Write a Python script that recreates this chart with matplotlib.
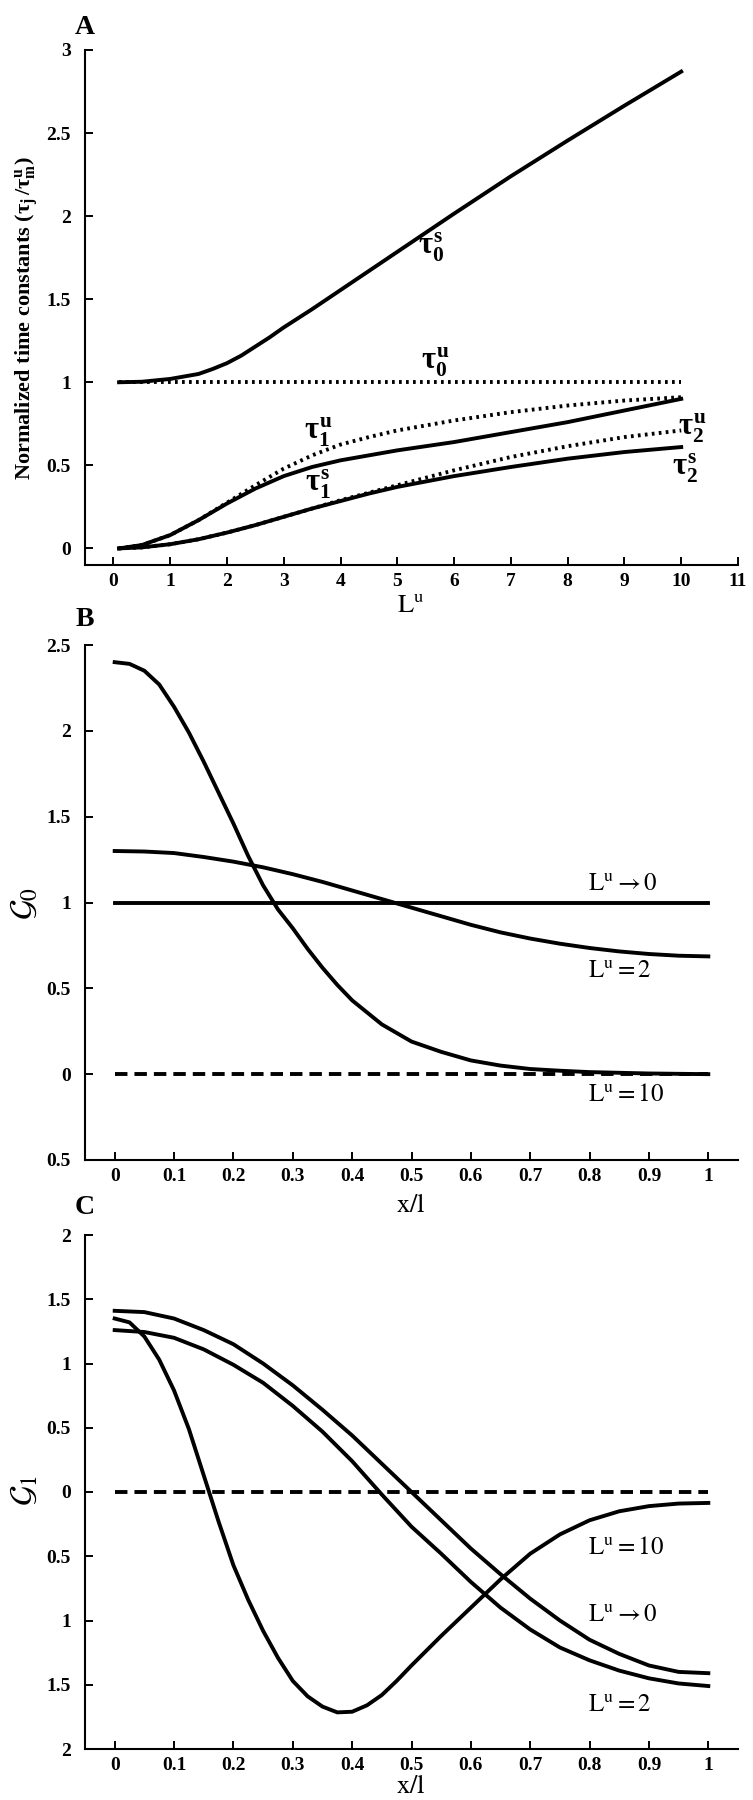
import matplotlib
matplotlib.use("Agg")
import matplotlib.pyplot as plt

# ---- panel A : normalized time constants vs L^u ----
L_s0 = [0.1, 0.5, 1, 1.25, 1.5, 1.75, 2, 2.25, 2.5, 2.75, 3, 3.5, 4, 4.5, 5, 5.5, 6, 7, 8, 9, 10]
tau0_s = [1.0, 1.003, 1.02, 1.035, 1.05, 1.08, 1.115, 1.16, 1.215, 1.27, 1.33, 1.44, 1.555,
          1.67, 1.785, 1.90, 2.015, 2.24, 2.455, 2.665, 2.87]

L_u0 = [0.1, 10]
tau0_u = [1.0, 1.0]

L_1 = [0.1, 0.5, 1, 1.5, 2, 2.5, 3, 3.5, 4, 4.5, 5, 6, 7, 8, 9, 10]
tau1_s = [0.0, 0.02, 0.08, 0.17, 0.27, 0.36, 0.435, 0.49, 0.53, 0.56, 0.59, 0.64, 0.70, 0.76, 0.83, 0.90]
tau1_u = [0.0, 0.02, 0.08, 0.17, 0.275, 0.38, 0.48, 0.56, 0.625, 0.67, 0.71, 0.77, 0.82, 0.86, 0.89, 0.91]

L_2 = [0.1, 0.5, 1, 1.5, 2, 2.5, 3, 3.5, 4, 4.5, 5, 6, 7, 8, 9, 10]
tau2_s = [0.0, 0.006, 0.025, 0.055, 0.095, 0.14, 0.19, 0.24, 0.285, 0.33, 0.37, 0.435, 0.49, 0.54, 0.58, 0.61]
tau2_u = [0.0, 0.006, 0.025, 0.055, 0.095, 0.14, 0.19, 0.24, 0.29, 0.335, 0.38, 0.47, 0.55, 0.615, 0.67, 0.71]

# ---- panel B : G0 profiles ----
xB = [0, 0.05, 0.1, 0.15, 0.2, 0.25, 0.3, 0.35, 0.4, 0.45, 0.5, 0.55, 0.6, 0.65, 0.7, 0.75,
      0.8, 0.85, 0.9, 0.95, 1.0]
g0_L0 = [1.0] * 21
g0_L2 = [1.30, 1.297, 1.288, 1.265, 1.238, 1.205, 1.165, 1.12, 1.07, 1.02, 0.97, 0.92, 0.87,
         0.826, 0.79, 0.76, 0.735, 0.715, 0.70, 0.69, 0.686]
xB10 = [0, 0.025, 0.05, 0.075, 0.1, 0.125, 0.15, 0.175, 0.2, 0.225, 0.25, 0.275, 0.3, 0.325,
        0.35, 0.375, 0.4, 0.45, 0.5, 0.55, 0.6, 0.65, 0.7, 0.75, 0.8, 0.9, 1.0]
g0_L10 = [2.40, 2.39, 2.35, 2.27, 2.14, 1.99, 1.82, 1.64, 1.46, 1.27, 1.10, 0.96, 0.85, 0.73,
          0.62, 0.52, 0.43, 0.29, 0.19, 0.13, 0.08, 0.05, 0.03, 0.02, 0.012, 0.004, 0.0]

# ---- panel C : G1 profiles ----
xC = [0, 0.05, 0.1, 0.15, 0.2, 0.25, 0.3, 0.35, 0.4, 0.45, 0.5, 0.55, 0.6, 0.65, 0.7, 0.75,
      0.8, 0.85, 0.9, 0.95, 1.0]
g1_L0 = [1.41, 1.40, 1.35, 1.26, 1.15, 1.00, 0.83, 0.64, 0.44, 0.22, 0.0, -0.22, -0.44, -0.64,
         -0.83, -1.00, -1.15, -1.26, -1.35, -1.40, -1.41]
g1_L2 = [1.26, 1.245, 1.20, 1.11, 0.99, 0.85, 0.67, 0.47, 0.24, -0.02, -0.27, -0.48, -0.70,
         -0.90, -1.07, -1.21, -1.31, -1.39, -1.45, -1.49, -1.51]
xC10 = [0, 0.025, 0.05, 0.075, 0.1, 0.125, 0.15, 0.175, 0.2, 0.225, 0.25, 0.275, 0.3, 0.325,
        0.35, 0.375, 0.4, 0.425, 0.45, 0.475, 0.5, 0.55, 0.6, 0.65, 0.7, 0.75, 0.8, 0.85,
        0.9, 0.95, 1.0]
g1_L10 = [1.35, 1.32, 1.21, 1.03, 0.79, 0.49, 0.13, -0.23, -0.57, -0.84, -1.08, -1.29, -1.47,
          -1.59, -1.67, -1.715, -1.71, -1.66, -1.58, -1.47, -1.35, -1.12, -0.90, -0.68, -0.48,
          -0.33, -0.22, -0.15, -0.11, -0.09, -0.085]

xticks_frac = [0, 0.1, 0.2, 0.3, 0.4, 0.5, 0.6, 0.7, 0.8, 0.9, 1.0]
xticklabels_frac = ["0", "0.1", "0.2", "0.3", "0.4", "0.5", "0.6", "0.7", "0.8", "0.9", "1"]

plt.rcParams["mathtext.fontset"] = "custom"
plt.rcParams["mathtext.rm"] = "Liberation Serif:bold"
plt.rcParams["mathtext.it"] = "Liberation Serif:bold"
plt.rcParams["mathtext.bf"] = "Liberation Serif:bold"

W, H = 753, 1800
LW = 2.8
DOT = (0, (0.7, 1.1))
DASH = (0, (3.2, 1.8))


def style_axes(ax):
    for s in ["top", "right"]:
        ax.spines[s].set_visible(False)
    for s in ["left", "bottom"]:
        ax.spines[s].set_linewidth(1.5)
    ax.tick_params(direction="in", length=6, width=1.4, pad=6)
    ax.tick_params(axis="y", pad=10)
    for lab in ax.get_xticklabels() + ax.get_yticklabels():
        lab.set_fontfamily("Liberation Serif")
        lab.set_fontweight("bold")
        lab.set_fontsize(14)


def fx(px):
    return px / W


def fy(py):
    return 1 - py / H


fig = plt.figure(figsize=(7.53, 18.0), dpi=100)
axA = fig.add_axes([fx(85), fy(565), 653 / W, 515 / H])
axB = fig.add_axes([fx(85), fy(1160), 653 / W, 515 / H])
axC = fig.add_axes([fx(85), fy(1749), 653 / W, 514 / H])

# Panel A
axA.plot(L_s0, tau0_s, color="k", lw=LW)
axA.plot(L_u0, tau0_u, color="k", lw=LW, linestyle=DOT)
axA.plot(L_1, tau1_s, color="k", lw=LW)
axA.plot(L_1, tau1_u, color="k", lw=LW, linestyle=DOT)
axA.plot(L_2, tau2_s, color="k", lw=LW)
axA.plot(L_2, tau2_u, color="k", lw=LW, linestyle=DOT)
axA.set_xlim(-0.5, 11)
axA.set_ylim(-0.1, 3)
axA.set_xticks(range(0, 12))
axA.set_xticklabels([str(i) for i in range(0, 12)])
axA.set_yticks([0, 0.5, 1, 1.5, 2, 2.5, 3])
axA.set_yticklabels(["0", "0.5", "1", "1.5", "2", "2.5", "3"])
style_axes(axA)

tau_kw = dict(ha="center", va="center", fontsize=22)
axA.text(5.6, 1.81, r"$\tau_0^s$", **tau_kw)
axA.text(5.67, 1.12, r"$\tau_0^u$", **tau_kw)
axA.text(3.61, 0.70, r"$\tau_1^u$", **tau_kw)
axA.text(3.6, 0.385, r"$\tau_1^s$", **tau_kw)
axA.text(10.2, 0.72, r"$\tau_2^u$", **tau_kw)
axA.text(10.07, 0.48, r"$\tau_2^s$", **tau_kw)

# Panel B
axB.plot(xB, g0_L0, color="k", lw=LW)
axB.plot(xB, g0_L2, color="k", lw=LW)
axB.plot(xB10, g0_L10, color="k", lw=LW)
axB.plot([0, 1], [0, 0], color="k", lw=LW, linestyle=DASH)
axB.set_xlim(-0.05, 1.05)
axB.set_ylim(-0.5, 2.5)
axB.set_xticks(xticks_frac)
axB.set_xticklabels(xticklabels_frac)
axB.set_yticks([-0.5, 0, 0.5, 1, 1.5, 2, 2.5])
axB.set_yticklabels(["0.5", "0", "0.5", "1", "1.5", "2", "2.5"])
style_axes(axB)

ann_kw = dict(ha="left", va="center", fontsize=18, math_fontfamily="stix")
axB.text(0.797, 1.105, r"$\mathrm{L}^{\mathrm{u}}\rightarrow 0$", **ann_kw)
axB.text(0.797, 0.60, r"$\mathrm{L}^{\mathrm{u}} = 2$", **ann_kw)
axB.text(0.797, -0.116, r"$\mathrm{L}^{\mathrm{u}} = 10$", **ann_kw)

# Panel C
axC.plot(xC, g1_L0, color="k", lw=LW)
axC.plot(xC, g1_L2, color="k", lw=LW)
axC.plot(xC10, g1_L10, color="k", lw=LW)
axC.plot([0, 1], [0, 0], color="k", lw=LW, linestyle=DASH)
axC.set_xlim(-0.05, 1.05)
axC.set_ylim(-2, 2)
axC.set_xticks(xticks_frac)
axC.set_xticklabels(xticklabels_frac)
axC.set_yticks([-2, -1.5, -1, -0.5, 0, 0.5, 1, 1.5, 2])
axC.set_yticklabels(["2", "1.5", "1", "0.5", "0", "0.5", "1", "1.5", "2"])
style_axes(axC)

axC.text(0.797, -0.43, r"$\mathrm{L}^{\mathrm{u}} = 10$", **ann_kw)
axC.text(0.797, -0.96, r"$\mathrm{L}^{\mathrm{u}}\rightarrow 0$", **ann_kw)
axC.text(0.797, -1.66, r"$\mathrm{L}^{\mathrm{u}} = 2$", **ann_kw)

# panel letters, axis labels
letter_kw = dict(ha="center", va="center", fontsize=20, family="Liberation Serif", weight="bold")
fig.text(fx(85), fy(27), "A", **letter_kw)
fig.text(fx(85), fy(620), "B", **letter_kw)
fig.text(fx(85), fy(1208), "C", **letter_kw)

fig.text(fx(27), fy(318), r"Normalized time constants ($\tau_j\,/\tau_m^u$)", rotation=90,
         ha="center", va="center", fontsize=16, family="Liberation Serif", weight="bold")
fig.text(fx(23), fy(903), r"$\mathcal{G}_0$", rotation=90, ha="center", va="center",
         fontsize=24, math_fontfamily="stix")
fig.text(fx(23), fy(1490), r"$\mathcal{G}_1$", rotation=90, ha="center", va="center",
         fontsize=24, math_fontfamily="stix")

xl_kw = dict(ha="center", va="center", fontsize=19, math_fontfamily="stix")
fig.text(fx(411), fy(605), r"$\mathrm{L}^{\mathrm{u}}$", **xl_kw)
fig.text(fx(411), fy(1205), r"$\mathrm{x/l}$", **xl_kw)
fig.text(fx(411), fy(1786), r"$\mathrm{x/l}$", **xl_kw)

fig.savefig("out.png", dpi=100)
